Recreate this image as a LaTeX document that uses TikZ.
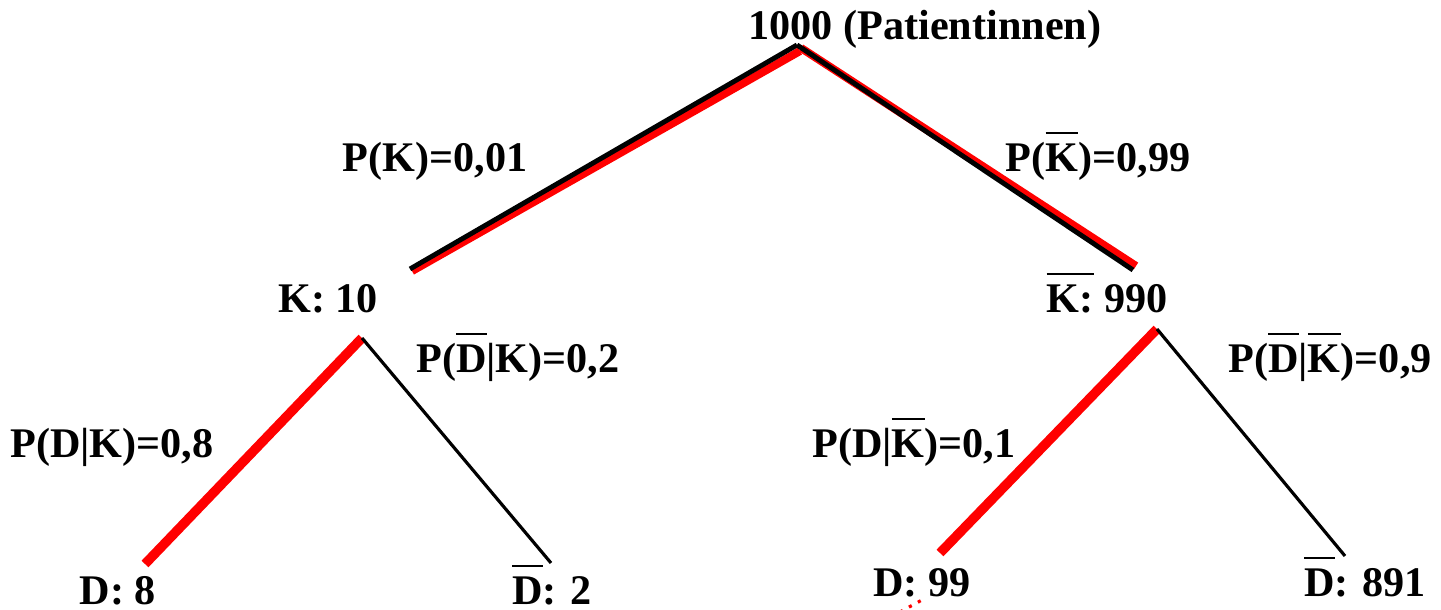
\documentclass[tikz,border=0pt]{standalone}
\usepackage{fontspec}
\setmainfont{Liberation Serif}
\newcommand{\ob}[1]{\setbox0\hbox{#1}\rlap{\rule[10.8pt]{\wd0}{0.6pt}}\box0\relax}
\begin{document}
\begin{tikzpicture}[x=0.01cm,y=-0.01cm,
  lbl/.style={font=\bfseries\fontsize{12}{14}\selectfont, inner sep=0pt, anchor=base},
  redthick/.style={draw=red, line width=2.3pt},
  blackmid/.style={draw=black, line width=1.4pt},
  blackthin/.style={draw=black, line width=0.9pt},
  redfat/.style={draw=red, line width=2.7pt}]
\useasboundingbox (0,0) rectangle (1441,610);
% text nodes
\node[lbl] (root) at (925,40) {1000 (Patientinnen)};
\node[lbl] (pk) at (435,172) {P(K)=0,01};
\node[lbl] (pkb) at (1098,172) {P(\ob{K})=0,99};
\node[lbl] (k) at (328,313) {K: 10};
\node[lbl] (kb) at (1107,313) {\ob{K:} 990};
\node[lbl] (pdbk) at (518,373) {P(\ob{D}|K)=0,2};
\node[lbl] (pdbkb) at (1330,373) {P(\ob{D}|\ob{K})=0,9};
\node[lbl] (pdk) at (112,458) {P(D|K)=0,8};
\node[lbl] (pdkb) at (914,458) {P(D|\ob{K})=0,1};
\node[lbl] (d1) at (118,605) {D: 8};
\node[lbl] (d2) at (552,605) {\ob{D}: 2};
\node[lbl] (d3) at (922,597) {D: 99};
\node[lbl] (d4) at (1365,597) {\ob{D}: 891};
% branch end points
\coordinate (top) at (797,45);
\coordinate (topr) at (801,48);
\coordinate (topl) at (800,51);
\coordinate (kend) at (410,269);
\coordinate (kendr) at (412,271);
\coordinate (kbend) at (1133,270);
\coordinate (kbendr) at (1136,266);
\coordinate (ks) at (362,338);
\coordinate (d1e) at (145,564);
\coordinate (d2e) at (551,563);
\coordinate (kbs) at (1157,329);
\coordinate (d3e) at (940,553);
\coordinate (d4e) at (1345,556);
\coordinate (dot1) at (900,612);
\coordinate (dot2) at (922,600);
% top level
\draw[redthick] (topl) -- (kendr);
\draw[blackmid] (top) -- (kend);
\draw[redthick] (topr) -- (kbendr);
\draw[blackmid] (top) -- (kbend);
% second level
\draw[redfat] (ks) -- (d1e);
\draw[blackthin] (ks) -- (d2e);
\draw[redfat] (kbs) -- (d3e);
\draw[blackthin] (kbs) -- (d4e);
\draw[red, line width=0.9pt, dotted] (dot1) -- (dot2);
\end{tikzpicture}
\end{document}
